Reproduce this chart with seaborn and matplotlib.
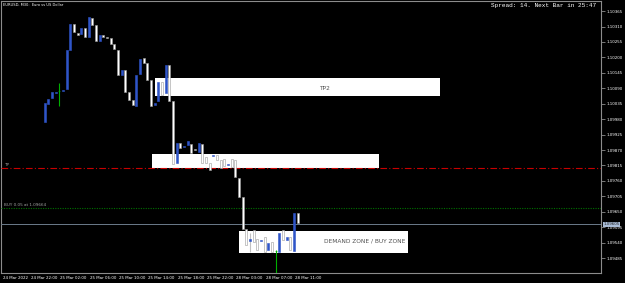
import numpy as np
import pandas as pd
import matplotlib
matplotlib.use("Agg")
import matplotlib.pyplot as plt
import matplotlib.transforms as mtransforms
import seaborn as sns

# ---------------- data (EURUSD M30, bar index 0..81) ----------------
nan = np.nan
opens = [nan] * 12 + [
    1.09970, 1.10034, 1.10055, 1.10073, 1.10080, 1.10080, 1.10087, 1.10226,
    1.10319, 1.10287, 1.10283, 1.10304, 1.10272, 1.10340, 1.10315, 1.10258,
    1.10280, 1.10272, 1.10269, 1.10247, 1.10226, 1.10137, 1.10155, 1.10077,
    1.10048, 1.10027, 1.10141, 1.10198, 1.10180, 1.10119, 1.10030, 1.10044,
    1.10112, 1.10073, 1.10173, 1.10044, 1.09824, 1.09895, 1.09881, 1.09888,
    1.09891, 1.09873, 1.09863, 1.09891, 1.09845, 1.09824, 1.09849, 1.09852,
    1.09834, 1.09838, 1.09816, 1.09838, 1.09834, 1.09770, 1.09702, 1.09588,
    1.09546, 1.09585, 1.09553, 1.09546, 1.09560, 1.09514, 1.09542, 1.09510,
    1.09507, 1.09585, 1.09549, 1.09560, 1.09510, 1.09645]
closes = [nan] * 12 + [
    1.10037, 1.10052, 1.10077, 1.10077, 1.10080, 1.10084, 1.10226, 1.10319,
    1.10290, 1.10280, 1.10304, 1.10272, 1.10344, 1.10315, 1.10258, 1.10280,
    1.10272, 1.10269, 1.10247, 1.10230, 1.10137, 1.10155, 1.10077, 1.10048,
    1.10030, 1.10137, 1.10194, 1.10180, 1.10119, 1.10027, 1.10037, 1.10112,
    1.10066, 1.10173, 1.10044, 1.09820, 1.09895, 1.09877, 1.09884, 1.09902,
    1.09859, 1.09870, 1.09895, 1.09824, 1.09824, 1.09799, 1.09852, 1.09834,
    1.09806, 1.09813, 1.09820, 1.09809, 1.09774, 1.09702, 1.09588, 1.09531,
    1.09553, 1.09542, 1.09514, 1.09549, 1.09507, 1.09539, 1.09507, 1.09510,
    1.09574, 1.09549, 1.09560, 1.09514, 1.09645, 1.09610]
wick_bars = [16, 68, 75]
wick_high = [1.10109, 1.09574, 1.09514]
wick_low = [1.10027, 1.09507, 1.09432]

tick_bars = [8, 16, 24, 32, 40, 48, 56, 64, 72, 80]
time_labels = ["24 Mar 2022", "24 Mar 22:00", "25 Mar 02:00", "25 Mar 06:00",
               "25 Mar 10:00", "25 Mar 14:00", "25 Mar 18:00", "25 Mar 22:00",
               "28 Mar 03:00", "28 Mar 07:00", "28 Mar 11:00"]
price_ticks = [1.10365, 1.10310, 1.10255, 1.10200, 1.10145, 1.10090, 1.10035,
               1.09980, 1.09925, 1.09870, 1.09815, 1.09760, 1.09705, 1.09650,
               1.09595, 1.09540, 1.09485]
tp_level = 1.09806
buy_level = 1.09664
bid_level = 1.09605
tp2_zone = (1.10062, 1.10126)
mid_zone = (1.09806, 1.09856)
demand_zone = (1.09503, 1.09581)

# ---------------- style ----------------
sns.set_theme(style="dark", rc={
    "axes.facecolor": "black", "figure.facecolor": "black",
    "axes.edgecolor": "#8c8c8c", "axes.linewidth": 0.8,
    "xtick.color": "#8c8c8c", "ytick.color": "#8c8c8c",
    "axes.grid": False,
})
plt.rcParams["font.family"] = ["DejaVu Sans"]

df = pd.DataFrame({"bar": np.arange(len(opens)), "open": opens, "close": closes})
df = df.dropna()
df["bottom"] = df[["open", "close"]].min(axis=1)
df["height"] = (df["close"] - df["open"]).abs()
df["kind"] = np.where(df["close"] > df["open"], "bull",
                      np.where(df["close"] < df["open"], "bear", "doji"))

fig = plt.figure(figsize=(6.25, 2.83), dpi=100)
ax = fig.add_axes([1 / 625, 10 / 283, 600 / 625, 272 / 283])
ax.set_facecolor("black")

# zones (drawn behind bars)
for (lo, hi), x0, x1 in [(tp2_zone, 42.1, 119.8), (mid_zone, 41.3, 103.2),
                         (demand_zone, 65.0, 111.1)]:
    ax.fill_between([x0, x1], lo, hi, color="white", zorder=1, linewidth=0)
ax.text(88.4, sum(tp2_zone) / 2 - 0.00004, "TP2", color="#505050", fontsize=4.2,
        ha="center", va="center", zorder=2)
ax.text(88.2, sum(demand_zone) / 2 + 0.00004, "DEMAND ZONE / BUY ZONE", color="#505050",
        fontsize=4.2, ha="left", va="center", zorder=2)

# horizontal lines
ax.axhline(tp_level, color="#c80000", lw=0.8, ls=(0, (6, 2, 1, 2)), zorder=3)
ax.axhline(buy_level, color="#007000", lw=0.8, ls=(0, (1, 1.2)), zorder=3)
ax.axhline(bid_level, color="#6c7b8b", lw=0.7, zorder=3)
trans_l = mtransforms.blended_transform_factory(ax.transAxes, ax.transData)
ax.text(0.005, tp_level + 0.00009, "TP", color="#a0a0a0", fontsize=3.0,
        transform=trans_l, va="center")
ax.text(0.005, buy_level + 0.00009, "BUY 0.05 at 1.09664", color="#a0a0a0",
        fontsize=3.0, transform=trans_l, va="center")

# wicks
for b, h, l in zip(wick_bars, wick_high, wick_low):
    col = "#00b000" if df.loc[df.bar == b, "kind"].iloc[0] == "doji" else "#c0c0c0"
    ax.vlines(b, l, h, color=col, lw=0.8, zorder=4)

# bodies
colors = {"bull": "#2f55c8", "bear": "#ffffff", "doji": "#00b000"}
edges = {"bull": "#2f55c8", "bear": "#9a9a9a", "doji": "#00b000"}
for kind, sub in df.groupby("kind"):
    ax.bar(sub["bar"], np.maximum(sub["height"], 0.000012), bottom=sub["bottom"],
           width=0.5, color=colors[kind], edgecolor=edges[kind], linewidth=0.4,
           zorder=5)

ax.set_xlim(0.09, 163.7)
ax.set_ylim(1.09432, 1.10401)

# y axis on right
ax.yaxis.tick_right()
ax.set_yticks(price_ticks)
ax.set_yticklabels([f"{p:.5f}" for p in price_ticks], color="white", fontsize=2.9)
ax.tick_params(axis="y", length=3, width=0.6, pad=1.2)
# x axis
ax.set_xticks(tick_bars)
ax.set_xticklabels([])
ax.tick_params(axis="x", length=3, width=0.6, direction="out")
trans_b = mtransforms.blended_transform_factory(ax.transData, ax.transAxes)
for pos, lab in zip([0.6] + [t + 0.3 for t in tick_bars], time_labels):
    ax.text(pos, -0.012, lab, color="white", fontsize=2.9, ha="left", va="top",
            transform=trans_b, clip_on=False)

# current price label
ax.text(1.004, bid_level, f"{bid_level:.5f}", transform=trans_l, color="#202020",
        fontsize=2.9, ha="left", va="center",
        bbox=dict(boxstyle="square,pad=0.2", fc="#a9bcd6", ec="none"))

# header texts
fig.text(3 / 625, 1 - 5 / 283, "EURUSD, M30:  Euro vs US Dollar", color="white",
         fontsize=2.6, ha="left", va="center")
fig.text(596 / 625, 1 - 6 / 283, "Spread: 14. Next Bar in 25:47", color="white",
         fontsize=4.4, ha="right", va="center", family="Liberation Mono")

for s in ax.spines.values():
    s.set_color("#8c8c8c")
    s.set_linewidth(0.8)

fig.savefig("out.png", dpi=100, facecolor="black")
